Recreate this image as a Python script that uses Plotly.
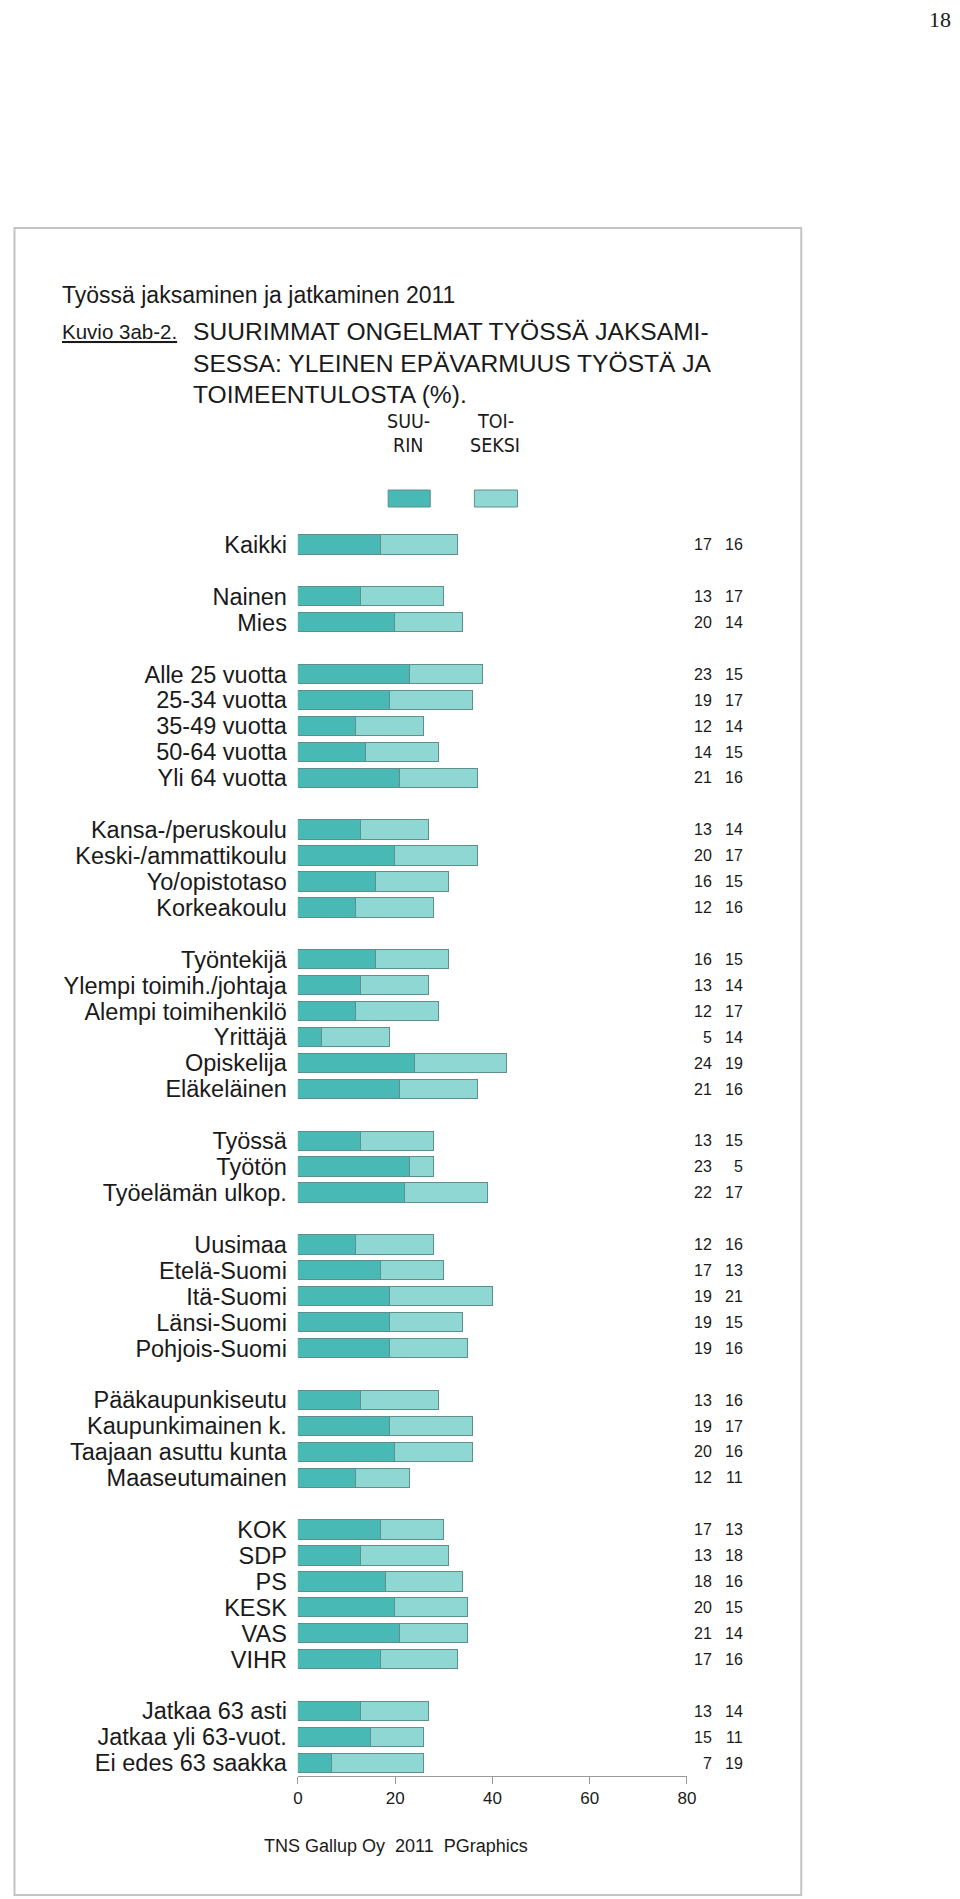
import plotly.graph_objects as go

# --- Données ---
categories = [
    "Kaikki",
    "Nainen", "Mies",
    "Alle 25 vuotta", "25-34 vuotta", "35-49 vuotta", "50-64 vuotta", "Yli 64 vuotta",
    "Kansa-/peruskoulu", "Keski-/ammattikoulu", "Yo/opistotaso", "Korkeakoulu",
    "Työntekijä", "Ylempi toimih./johtaja", "Alempi toimihenkilö", "Yrittäjä",
    "Opiskelija", "Eläkeläinen",
    "Työssä", "Työtön", "Työelämän ulkop.",
    "Uusimaa", "Etelä-Suomi", "Itä-Suomi", "Länsi-Suomi", "Pohjois-Suomi",
    "Pääkaupunkiseutu", "Kaupunkimainen k.", "Taajaan asuttu kunta", "Maaseutumainen",
    "KOK", "SDP", "PS", "KESK", "VAS", "VIHR",
    "Jatkaa 63 asti", "Jatkaa yli 63-vuot.", "Ei edes 63 saakka",
]
group_sizes = [1, 2, 5, 4, 6, 3, 5, 4, 6, 3]

suurin = [
    17,
    13, 20,
    23, 19, 12, 14, 21,
    13, 20, 16, 12,
    16, 13, 12, 5, 24, 21,
    13, 23, 22,
    12, 17, 19, 19, 19,
    13, 19, 20, 12,
    17, 13, 18, 20, 21, 17,
    13, 15, 7,
]
toiseksi = [
    16,
    17, 14,
    15, 17, 14, 15, 16,
    14, 17, 15, 16,
    15, 14, 17, 14, 19, 16,
    15, 5, 17,
    16, 13, 21, 15, 16,
    16, 17, 16, 11,
    13, 18, 16, 15, 14, 16,
    14, 11, 19,
]
x_ticks = [0, 20, 40, 60, 80]

# --- Mise en page ---
OFF = 8             # marge du <body>
SX, BX = 0.983, 7.0  # correction de largeur constatée sur la capture
W, H = 975, 1891
DARK = "#48B9B4"
LIGHT = "#8FD7D2"
EDGE = "#5F8F8D"
TXT = "#1a1a1a"
SANS = "Liberation Sans, Arial, Helvetica, sans-serif"
NARROW = "DejaVu Sans Condensed, Liberation Sans Narrow, Liberation Sans, sans-serif"


def px(x):
    # position voulue sur l'image -> coordonnée papier
    return ((x - BX) / SX - OFF) / W


def py(y):
    return 1 - (y - OFF) / H


# position des lignes : une ligne vide entre chaque groupe
slots = []
pos = 0
for size in group_sizes:
    for _ in range(size):
        slots.append(pos)
        pos += 1
    pos += 1

fig = go.Figure()
fig.add_trace(go.Bar(
    y=slots, x=suurin, orientation="h", name="SUURIN",
    marker=dict(color=DARK, line=dict(color=EDGE, width=1)),
    width=0.745, showlegend=False, hoverinfo="skip",
))
fig.add_trace(go.Bar(
    y=slots, x=toiseksi, orientation="h", name="TOISEKSI",
    marker=dict(color=LIGHT, line=dict(color=EDGE, width=1)),
    width=0.745, showlegend=False, hoverinfo="skip",
))

annotations = []
for s, a, b in zip(slots, suurin, toiseksi):
    annotations.append(dict(x=px(714), y=s, xref="paper", yref="y", text=str(a),
                            xanchor="right", yanchor="middle", showarrow=False,
                            font=dict(family=SANS, size=16, color=TXT)))
    annotations.append(dict(x=px(745), y=s, xref="paper", yref="y", text=str(b),
                            xanchor="right", yanchor="middle", showarrow=False,
                            font=dict(family=SANS, size=16, color=TXT)))


def note(text, x, y, size, family=SANS, anchor="left", vanchor="middle", yshift=0):
    annotations.append(dict(x=px(x), y=py(y), xref="paper", yref="paper", text=text,
                            xanchor=anchor, yanchor=vanchor, showarrow=False, yshift=yshift,
                            font=dict(family=family, size=size, color=TXT)))


note("18", 952, OFF, 22, family="Liberation Serif, Times New Roman, serif",
     anchor="right", vanchor="top", yshift=3)
note("Työssä jaksaminen ja jatkaminen 2011", 62, 295, 23)
note("<u>Kuvio 3ab-2.</u>", 62, 332, 20.5)
note("SUURIMMAT ONGELMAT TYÖSSÄ JAKSAMI-", 192, 332, 24.6)
note("SESSA: YLEINEN EPÄVARMUUS TYÖSTÄ JA", 192, 363, 24.6)
note("TOIMEENTULOSTA (%).", 192, 394, 24.6)
note("SUU-", 409, 421, 19.5, family=NARROW, anchor="center")
note("RIN", 409, 445, 19.5, family=NARROW, anchor="center")
note("TOI-", 496, 421, 19.5, family=NARROW, anchor="center")
note("SEKSI", 496, 445, 19.5, family=NARROW, anchor="center")
note("TNS Gallup Oy\u00a0\u00a02011\u00a0\u00a0PGraphics", 397, 1846, 18, anchor="center")

shapes = [
    # cadre (bord gauche gardé dans la figure)
    dict(type="rect", xref="paper", yref="paper", x0=max(px(4), 1.5 / W), x1=px(801),
         y0=py(1895), y1=py(228),
         line=dict(color="#C4C4C4", width=2), fillcolor="rgba(0,0,0,0)", layer="below"),
    # légende
    dict(type="rect", xref="paper", yref="paper", x0=px(389), x1=px(431), y0=py(507), y1=py(490),
         line=dict(color=EDGE, width=1), fillcolor=DARK),
    dict(type="rect", xref="paper", yref="paper", x0=px(475), x1=px(518), y0=py(507), y1=py(490),
         line=dict(color=EDGE, width=1), fillcolor=LIGHT),
]

fig.update_layout(
    width=W, height=H,
    margin=dict(l=0, r=0, t=0, b=0),
    paper_bgcolor="white", plot_bgcolor="white",
    barmode="stack", bargap=0,
    showlegend=False,
    annotations=annotations,
    shapes=shapes,
    xaxis=dict(
        domain=[px(299), px(687)], range=[0, 80],
        tickvals=x_ticks, ticks="outside", ticklen=7, tickcolor="#999999",
        showline=True, linecolor="#999999", linewidth=1,
        showgrid=False, zeroline=False,
        tickfont=dict(family=SANS, size=17, color=TXT),
    ),
    yaxis=dict(
        domain=[py(1776), py(531.7)], range=[47.5, -0.5],
        tickvals=slots, ticktext=categories, ticks="",
        showline=False, showgrid=False, zeroline=False,
        ticklabelstandoff=10,
        tickfont=dict(family=SANS, size=23.5, color=TXT),
    ),
)

fig.write_html("out.html")
